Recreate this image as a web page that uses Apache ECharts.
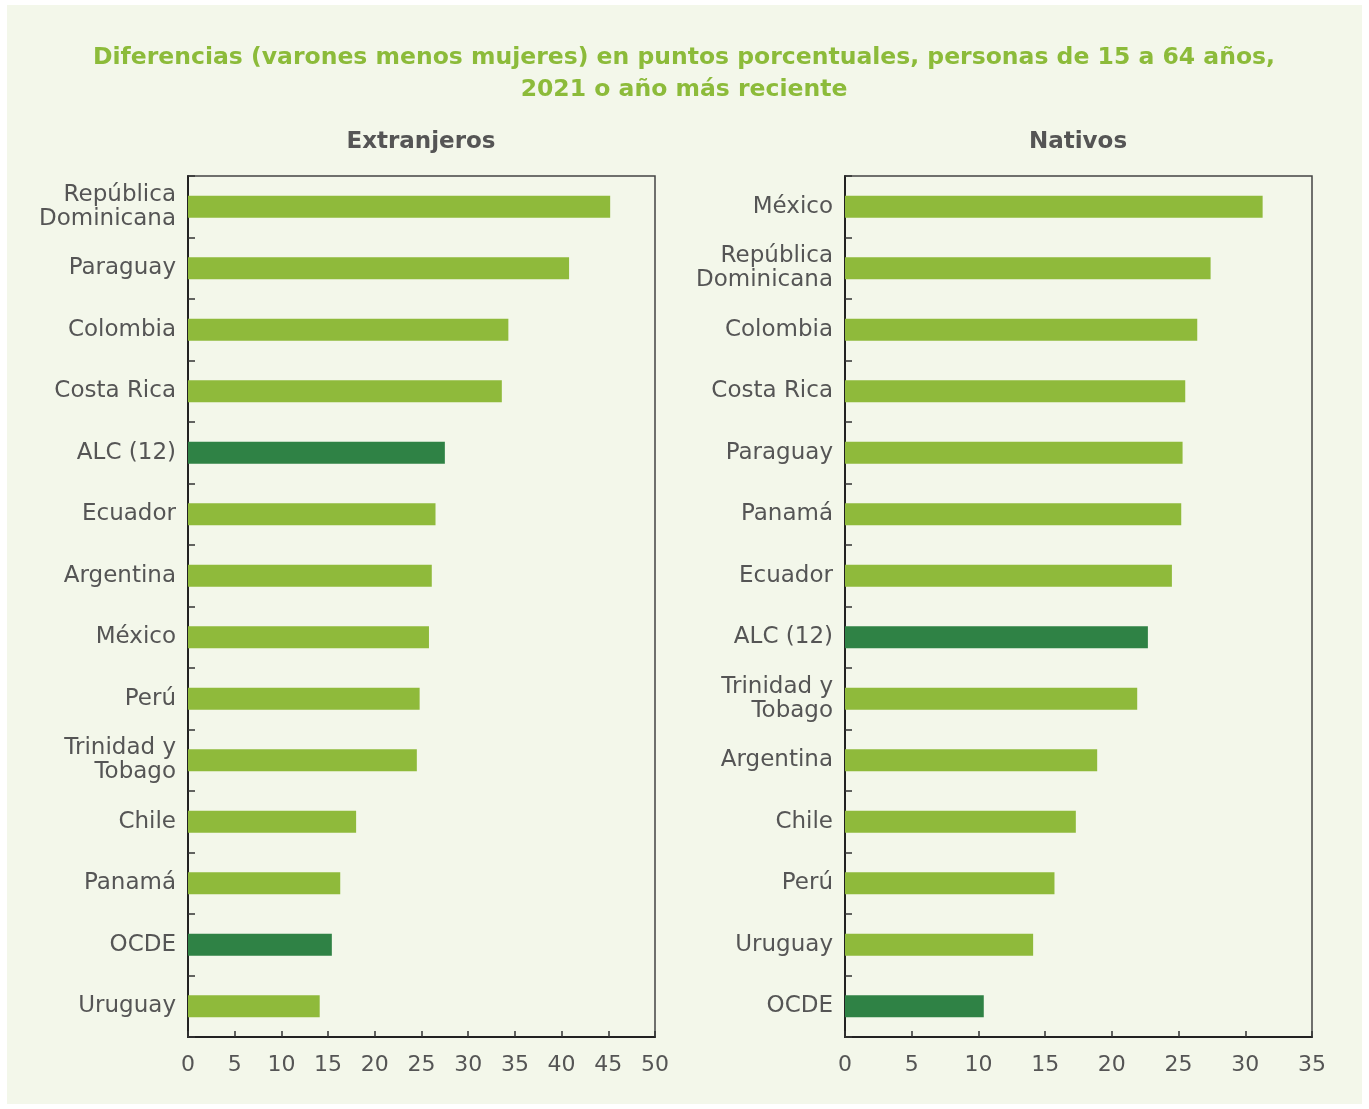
<!DOCTYPE html>
<html>
<head>
<meta charset="utf-8">
<script src="https://cdn.jsdelivr.net/npm/echarts@6/dist/echarts.min.js"></script>
<style>
html,body{margin:0;padding:0;background:#ffffff;}
#chart{width:1369px;height:1109px;}
</style>
</head>
<body>
<div id="chart"></div>
<script>
const titleText = 'Diferencias (varones menos mujeres) en puntos porcentuales, personas de 15 a 64 años,\n2021 o año más reciente';
const leftTitle = 'Extranjeros';
const rightTitle = 'Nativos';

const extCategories = ['República\nDominicana','Paraguay','Colombia','Costa Rica','ALC (12)','Ecuador','Argentina','México','Perú','Trinidad y\nTobago','Chile','Panamá','OCDE','Uruguay'];
const extValues = [45.2, 40.8, 34.3, 33.6, 27.5, 26.5, 26.1, 25.8, 24.8, 24.5, 18.0, 16.3, 15.4, 14.1];

const natCategories = ['México','República\nDominicana','Colombia','Costa Rica','Paraguay','Panamá','Ecuador','ALC (12)','Trinidad y\nTobago','Argentina','Chile','Perú','Uruguay','OCDE'];
const natValues = [31.3, 27.4, 26.4, 25.5, 25.3, 25.2, 24.5, 22.7, 21.9, 18.9, 17.3, 15.7, 14.1, 10.4];

const extTicks = [0,5,10,15,20,25,30,35,40,45,50];
const natTicks = [0,5,10,15,20,25,30,35];

const highlight = ['ALC (12)','OCDE'];
const lightGreen = '#8fba3b';
const darkGreen = '#2f8245';
const textColor = '#555555';
const fontFamily = '"DejaVu Sans", "Noto Sans", sans-serif';

function barData(cats, vals){
  return vals.map((v,i)=>({
    value: v,
    itemStyle: { color: highlight.includes(cats[i]) ? darkGreen : lightGreen }
  }));
}

function catAxis(idx, cats){
  return {
    type:'category', gridIndex: idx, data: cats, inverse: true,
    axisLine:{show:true, lineStyle:{color:'#222', width:2}},
    axisTick:{show:true, inside:true, length:7, alignWithLabel:false, lineStyle:{color:'#333', width:1.5}},
    axisLabel:{color:textColor, fontSize:23, fontFamily:fontFamily, lineHeight:24, margin:12, align:'right'},
    splitLine:{show:false}
  };
}
function valAxis(idx, ticks){
  return {
    type:'value', gridIndex: idx, min: ticks[0], max: ticks[ticks.length-1], interval: 5,
    axisLine:{show:true, lineStyle:{color:'#222', width:2}},
    axisTick:{show:true, inside:true, length:6, lineStyle:{color:'#333', width:1.5}},
    axisLabel:{color:textColor, fontSize:22, fontFamily:fontFamily, margin:17},
    splitLine:{show:false}
  };
}

const chart = echarts.init(document.getElementById('chart'), null, {renderer:'canvas'});
chart.setOption({
  backgroundColor:'#ffffff',
  animation:false,
  graphic:[{type:'rect', z:-10, silent:true, shape:{x:7,y:5,width:1355,height:1099}, style:{fill:'#f3f7ea'}}],
  title:[
    {text:titleText, left:684, top:42, textAlign:'center', padding:0,
     textStyle:{color:'#8cbb3a', fontSize:23.5, fontWeight:'bold', fontFamily:fontFamily, lineHeight:32, align:'center'}},
    {text:leftTitle, left:421, top:131, textAlign:'center', padding:0,
     textStyle:{color:textColor, fontSize:23, fontWeight:'bold', fontFamily:fontFamily}},
    {text:rightTitle, left:1078, top:131, textAlign:'center', padding:0,
     textStyle:{color:textColor, fontSize:23, fontWeight:'bold', fontFamily:fontFamily}}
  ],
  grid:[
    {left:188, right:714, top:176, bottom:72, show:true, borderColor:'#444', borderWidth:1.5, backgroundColor:'transparent'},
    {left:845, right:57, top:176, bottom:72, show:true, borderColor:'#444', borderWidth:1.5, backgroundColor:'transparent'}
  ],
  yAxis:[catAxis(0, extCategories), catAxis(1, natCategories)],
  xAxis:[valAxis(0, extTicks), valAxis(1, natTicks)],
  series:[
    {type:'bar', xAxisIndex:0, yAxisIndex:0, data:barData(extCategories, extValues), barWidth:22},
    {type:'bar', xAxisIndex:1, yAxisIndex:1, data:barData(natCategories, natValues), barWidth:22}
  ]
});
</script>
</body>
</html>
